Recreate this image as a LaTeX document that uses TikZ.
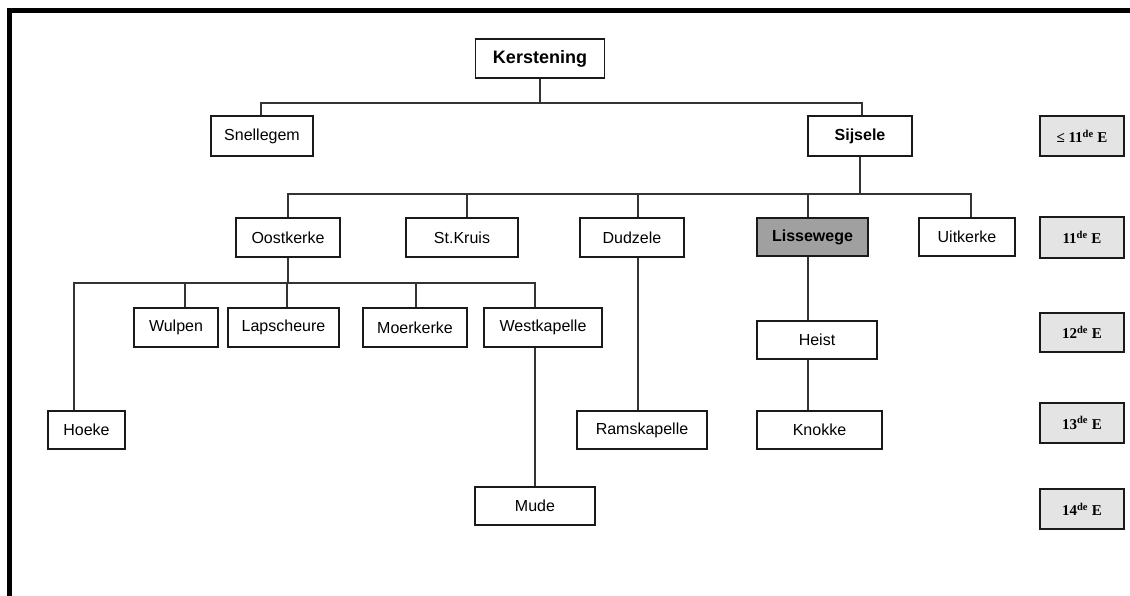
\documentclass[tikz,border=0pt]{standalone}
\usepackage{fontspec}
\setmainfont{Liberation Sans}
\newfontfamily\timesf{Liberation Serif}
\definecolor{linec}{HTML}{333333}
\definecolor{boxc}{HTML}{1A1A1A}
\definecolor{lgray}{HTML}{E4E4E4}
\definecolor{mgray}{HTML}{A0A0A0}
\begin{document}
\begin{tikzpicture}[x=1pt,y=-1pt,
  box/.style={draw=boxc, line width=1.3pt, fill=white, inner sep=0pt, minimum height=39pt, font=\fontsize{16}{18}\selectfont},
  bbox/.style={box, font=\fontsize{16}{18}\selectfont\bfseries},
  tbox/.style={box, fill=lgray, minimum width=84pt, minimum height=40pt, font=\fontsize{15}{17}\timesf\bfseries},
  conn/.style={draw=linec, line width=1.3pt}]
\useasboundingbox (0,0) rectangle (1130,595);
\fill[white] (0,0) rectangle (1130,595);
% frame
\draw[line width=5pt, black] (9.5,600) -- (9.5,10.5) -- (1135,10.5);

% bus coordinates
\coordinate (b1) at (540,103);
\coordinate (b2) at (860,194);
\coordinate (b3) at (288,283);
\coordinate (xkruis) at (467,0);
\coordinate (xdud) at (638,0);
\coordinate (xliss) at (808,0);
\coordinate (xhoeke) at (74,0);
\coordinate (xwulp) at (185,0);
\coordinate (xlaps) at (287,0);
\coordinate (xmoer) at (416,0);
\coordinate (xwest) at (535,0);
\coordinate (xuit) at (971,0);
\coordinate (xsijs) at (862,0);
\coordinate (xsnel) at (261,0);

% nodes
\node[box, minimum width=129pt, font=\fontsize{18}{20}\selectfont\bfseries] (kers) at (540,58.5) {Kerstening};
\node[box, minimum width=102pt, minimum height=40pt] (snel) at (262,136) {Snellegem};
\node[bbox, minimum width=104pt, minimum height=40pt] (sijs) at (860,136) {Sijsele};
\node[tbox] (t0) at (1082,136) {≤ 11\textsuperscript{de} E};

\node[box, minimum width=104pt] (oost) at (288,237.5) {Oostkerke};
\node[box, minimum width=112pt] (kruis) at (462,237.5) {St.Kruis};
\node[box, minimum width=104pt] (dud) at (632,237.5) {Dudzele};
\node[bbox, fill=mgray, minimum width=111pt, minimum height=38pt] (liss) at (812.5,237) {Lissewege};
\node[box, minimum width=96pt, minimum height=38pt] (uit) at (967,237) {Uitkerke};
\node[tbox, minimum height=41pt] (t1) at (1082,237.5) {11\textsuperscript{de} E};

\node[box, minimum width=84pt] (wulp) at (176,327.5) {Wulpen};
\node[box, minimum width=111pt] (laps) at (283.5,327.5) {Lapscheure};
\node[box, minimum width=104pt] (moer) at (415,327.5) {Moerkerke};
\node[box, minimum width=118pt] (west) at (543,327.5) {Westkapelle};
\node[box, minimum width=120pt, minimum height=38pt] (heist) at (817,340) {Heist};
\node[tbox, minimum height=39pt] (t2) at (1082,332.5) {12\textsuperscript{de} E};

\node[box, minimum width=77pt, minimum height=38pt] (hoeke) at (86.5,430) {Hoeke};
\node[box, minimum width=130pt, minimum height=38pt] (rams) at (642,430) {Ramskapelle};
\node[box, minimum width=125pt, minimum height=38pt] (knok) at (819.5,430) {Knokke};
\node[tbox] (t3) at (1082,423) {13\textsuperscript{de} E};

\node[box, minimum width=120pt, minimum height=38pt] (mude) at (535,506) {Mude};
\node[tbox] (t4) at (1082,509) {14\textsuperscript{de} E};

% connectors level 1
\draw[conn] (kers.south) -- (kers.south |- b1);
\draw[conn] (xsnel |- snel.north) -- (xsnel |- b1) -- (xsijs |- b1) -- (xsijs |- sijs.north);
% level 2
\draw[conn] (sijs.south) -- (sijs.south |- b2);
\draw[conn] (oost.north) -- (oost.north |- b2) -- (xuit |- b2) -- (xuit |- uit.north);
\draw[conn] (xkruis |- b2) -- (xkruis |- kruis.north);
\draw[conn] (xdud |- b2) -- (xdud |- dud.north);
\draw[conn] (xliss |- b2) -- (xliss |- liss.north);
% level 3
\draw[conn] (oost.south) -- (oost.south |- b3);
\draw[conn] (xhoeke |- hoeke.north) -- (xhoeke |- b3) -- (xwest |- b3) -- (xwest |- west.north);
\draw[conn] (xwulp |- b3) -- (xwulp |- wulp.north);
\draw[conn] (xlaps |- b3) -- (xlaps |- laps.north);
\draw[conn] (xmoer |- b3) -- (xmoer |- moer.north);
% deeper
\draw[conn] (xwest |- west.south) -- (xwest |- mude.north);
\draw[conn] (xdud |- dud.south) -- (xdud |- rams.north);
\draw[conn] (xliss |- liss.south) -- (xliss |- heist.north);
\draw[conn] (xliss |- heist.south) -- (xliss |- knok.north);
\end{tikzpicture}
\end{document}
